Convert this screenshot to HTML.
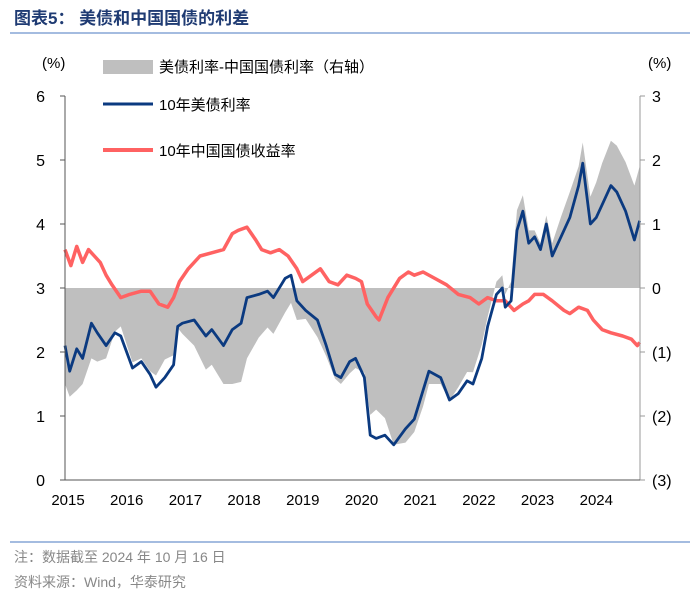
<!DOCTYPE html>
<html><head><meta charset="utf-8"><style>
body{margin:0;background:#fff;width:700px;height:603px;overflow:hidden;font-family:"Liberation Sans","Noto Sans CJK SC",sans-serif}
</style></head><body>
<svg id="c" width="700" height="603" xmlns="http://www.w3.org/2000/svg" font-family="Liberation Sans, Noto Sans CJK SC, sans-serif">
<text x="14" y="24" font-size="17" font-weight="bold" fill="#1f3b73">图表5：  美债和中国国债的利差</text>
<line x1="10" y1="33" x2="690" y2="33" stroke="#4a78c0" stroke-width="1"/>
<g id="spread"></g>
<g id="lines"></g>
<g id="axes"></g>
<text x="42" y="68" font-size="15">(%)</text>
<text x="648" y="68" font-size="15">(%)</text>
<rect x="103" y="60" width="50" height="14" fill="#bfbfbf"/>
<text x="159" y="72" font-size="15">美债利率-中国国债利率（右轴）</text>
<line x1="103" y1="104" x2="153" y2="104" stroke="#0b3a80" stroke-width="3"/>
<text x="159" y="110" font-size="15">10年美债利率</text>
<line x1="103" y1="150" x2="153" y2="150" stroke="#ff6262" stroke-width="4"/>
<text x="159" y="156" font-size="15">10年中国国债收益率</text>
<line x1="10" y1="542" x2="690" y2="542" stroke="#4a78c0" stroke-width="1"/>
<text x="14" y="562" font-size="14" fill="#888">注：数据截至 2024 年 10 月 16 日</text>
<text x="14" y="587" font-size="14" fill="#888">资料来源：Wind，华泰研究</text>
</svg>
<script>
const usDates=[2015.0,2015.08,2015.2,2015.3,2015.45,2015.55,2015.7,2015.85,2015.95,2016.05,2016.15,2016.3,2016.45,2016.55,2016.7,2016.85,2016.92,2017.0,2017.2,2017.4,2017.5,2017.7,2017.85,2018.0,2018.1,2018.3,2018.45,2018.55,2018.75,2018.85,2018.95,2019.1,2019.3,2019.45,2019.6,2019.7,2019.85,2019.95,2020.1,2020.2,2020.3,2020.45,2020.6,2020.8,2020.95,2021.1,2021.2,2021.4,2021.55,2021.7,2021.85,2021.95,2022.1,2022.2,2022.35,2022.45,2022.5,2022.6,2022.7,2022.8,2022.9,2023.0,2023.1,2023.2,2023.3,2023.45,2023.6,2023.75,2023.82,2023.95,2024.05,2024.15,2024.3,2024.4,2024.55,2024.7,2024.79];
const usValues=[2.1,1.7,2.05,1.9,2.45,2.3,2.1,2.3,2.25,2.0,1.75,1.85,1.65,1.45,1.6,1.8,2.4,2.45,2.5,2.25,2.35,2.1,2.35,2.45,2.85,2.9,2.95,2.85,3.15,3.2,2.8,2.65,2.5,2.1,1.65,1.6,1.85,1.9,1.6,0.7,0.65,0.7,0.55,0.8,0.95,1.4,1.7,1.6,1.25,1.35,1.55,1.5,1.9,2.4,2.9,3.0,2.7,2.8,3.9,4.2,3.7,3.8,3.6,4.0,3.5,3.8,4.1,4.6,4.95,4.0,4.1,4.3,4.6,4.5,4.2,3.75,4.05];
const cnDates=[2015.0,2015.1,2015.2,2015.3,2015.4,2015.5,2015.6,2015.7,2015.8,2015.95,2016.1,2016.3,2016.45,2016.6,2016.75,2016.85,2016.95,2017.1,2017.3,2017.5,2017.7,2017.85,2017.95,2018.1,2018.25,2018.35,2018.5,2018.65,2018.8,2018.95,2019.05,2019.2,2019.35,2019.5,2019.65,2019.8,2019.95,2020.05,2020.15,2020.3,2020.35,2020.5,2020.7,2020.85,2020.95,2021.1,2021.3,2021.5,2021.7,2021.9,2022.05,2022.2,2022.35,2022.5,2022.65,2022.8,2022.9,2023.0,2023.15,2023.3,2023.5,2023.6,2023.75,2023.9,2024.0,2024.15,2024.3,2024.5,2024.65,2024.75,2024.79];
const cnValues=[3.6,3.35,3.65,3.4,3.6,3.5,3.4,3.2,3.05,2.85,2.9,2.95,2.95,2.75,2.7,2.85,3.1,3.3,3.5,3.55,3.6,3.85,3.9,3.95,3.75,3.6,3.55,3.6,3.5,3.3,3.1,3.2,3.3,3.1,3.05,3.2,3.15,3.1,2.75,2.55,2.5,2.85,3.15,3.25,3.2,3.25,3.15,3.05,2.9,2.85,2.75,2.85,2.8,2.8,2.65,2.75,2.8,2.9,2.9,2.8,2.65,2.6,2.7,2.65,2.5,2.35,2.3,2.25,2.2,2.1,2.15];
const leftTicks=[0,1,2,3,4,5,6];
const rightTicks=[-3,-2,-1,0,1,2,3];
const rightLabels=["(3)","(2)","(1)","0","1","2","3"];
const years=[2015,2016,2017,2018,2019,2020,2021,2022,2023,2024];
const NS="http://www.w3.org/2000/svg";
const X=t=>65+(t-2015)*58.7;
const YL=v=>480-v*64;
const YR=v=>288-v*64;
function cnAt(t){for(let i=0;i<cnDates.length-1;i++){if(t<=cnDates[i+1]){const f=(t-cnDates[i])/(cnDates[i+1]-cnDates[i]);return cnValues[i]+f*(cnValues[i+1]-cnValues[i]);}}return cnValues[cnValues.length-1];}
function mk(tag,attrs,parent){const e=document.createElementNS(NS,tag);for(const k in attrs)e.setAttribute(k,attrs[k]);parent.appendChild(e);return e;}
const sg=document.getElementById('spread');
let d="M"+X(usDates[0])+","+YR(0);
usDates.forEach((t,i)=>{d+=" L"+X(t)+","+YR(usValues[i]-cnAt(t));});
d+=" L"+X(usDates[usDates.length-1])+","+YR(0)+" Z";
const sp=mk('path',{d:d,fill:"#bfbfbf"},sg);


const lg=document.getElementById('lines');
const cnp=mk('polyline',{points:cnDates.map((t,i)=>X(t)+","+YL(cnValues[i])).join(" "),fill:"none",stroke:"#ff6262","stroke-width":3.5,"stroke-linejoin":"round"},lg);


const usp=mk('polyline',{points:usDates.map((t,i)=>X(t)+","+YL(usValues[i])).join(" "),fill:"none",stroke:"#0b3a80","stroke-width":2.8,"stroke-linejoin":"round"},lg);


const ag=document.getElementById('axes');
const la=mk('line',{x1:65,y1:96,x2:65,y2:480,stroke:"#555"},ag);


const ra=mk('line',{x1:640,y1:96,x2:640,y2:480,stroke:"#999"},ag);


const ba=mk('line',{x1:65,y1:480,x2:640,y2:480,stroke:"#555"},ag);


leftTicks.forEach(v=>{mk('line',{x1:60,x2:65,y1:YL(v),y2:YL(v),stroke:"#555"},ag);
const t=mk('text',{x:45,y:YL(v)+6,"font-size":16,"text-anchor":"end"},ag);t.textContent=v;

});
rightTicks.forEach((v,i)=>{mk('line',{x1:640,x2:645,y1:YR(v),y2:YR(v),stroke:"#999"},ag);
const t=mk('text',{x:652,y:YR(v)+6,"font-size":16},ag);t.textContent=rightLabels[i];

});
years.forEach(y=>{const t=mk('text',{x:X(y)+3,y:505,"font-size":15,"text-anchor":"middle"},ag);t.textContent=y;

});
</script>
</body></html>
